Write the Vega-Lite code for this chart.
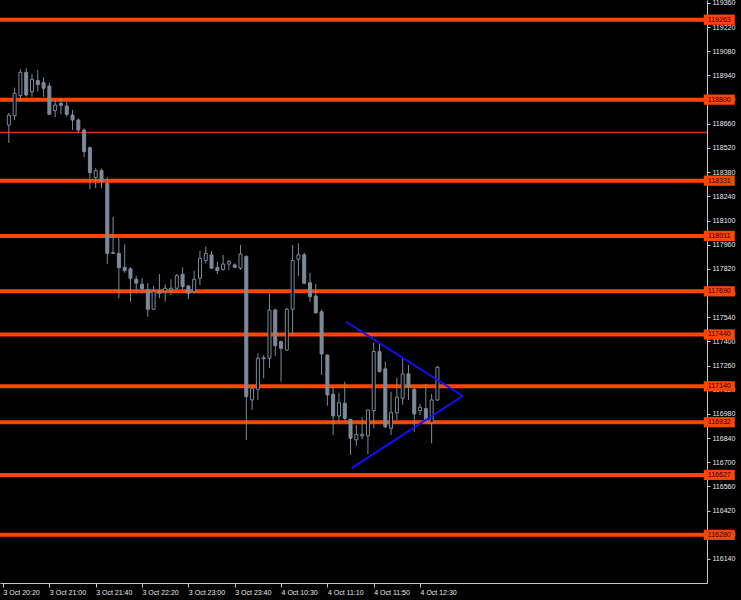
{
  "$schema": "https://vega.github.io/schema/vega-lite/v6.json",
  "width": 707,
  "height": 583,
  "autosize": {"type": "none"},
  "padding": {"left": 0, "top": 0, "right": 34, "bottom": 17},
  "background": "#000000",
  "config": {
    "view": {"stroke": null},
    "axis": {
      "grid": false,
      "domainColor": "#c8c8c8",
      "tickColor": "#c8c8c8",
      "labelColor": "#e8e8e8",
      "labelFont": "Liberation Sans",
      "labelFontSize": 7,
      "domainWidth": 1,
      "tickWidth": 1,
      "title": null,
      "zindex": 1,
      "labelOverlap": false,
      "labelFlush": false,
      "labelBound": false
    },
    "axisQuantitative": {"labelOverlap": false, "tickCount": 30},
    "axisY": {"labelOverlap": false},
    "axisRight": {"labelOverlap": false}
  },
  "datasets": {
    "candles": [
      {"i":1,"o":118653,"h":118723,"l":118549,"c":118711},
      {"i":2,"o":118707,"h":118869,"l":118682,"c":118837},
      {"i":3,"o":118823,"h":118976,"l":118788,"c":118958},
      {"i":4,"o":118958,"h":118982,"l":118817,"c":118827},
      {"i":5,"o":118846,"h":118949,"l":118817,"c":118918},
      {"i":6,"o":118910,"h":118972,"l":118846,"c":118887},
      {"i":7,"o":118898,"h":118929,"l":118817,"c":118866},
      {"i":8,"o":118879,"h":118898,"l":118711,"c":118715},
      {"i":9,"o":118736,"h":118798,"l":118698,"c":118769},
      {"i":10,"o":118779,"h":118808,"l":118715,"c":118767},
      {"i":11,"o":118763,"h":118788,"l":118701,"c":118715},
      {"i":12,"o":118711,"h":118740,"l":118624,"c":118682},
      {"i":13,"o":118682,"h":118692,"l":118609,"c":118624},
      {"i":14,"o":118624,"h":118634,"l":118466,"c":118499},
      {"i":15,"o":118522,"h":118528,"l":118281,"c":118377},
      {"i":16,"o":118348,"h":118402,"l":118287,"c":118389},
      {"i":17,"o":118389,"h":118402,"l":118287,"c":118325},
      {"i":18,"o":118316,"h":118350,"l":117848,"c":117910},
      {"i":19,"o":117914,"h":118122,"l":117906,"c":117910},
      {"i":20,"o":117910,"h":118003,"l":117650,"c":117827},
      {"i":21,"o":117829,"h":117962,"l":117798,"c":117810},
      {"i":22,"o":117820,"h":117830,"l":117630,"c":117766},
      {"i":23,"o":117760,"h":117781,"l":117679,"c":117737},
      {"i":24,"o":117731,"h":117766,"l":117679,"c":117705},
      {"i":25,"o":117698,"h":117737,"l":117543,"c":117586},
      {"i":26,"o":117586,"h":117721,"l":117582,"c":117688},
      {"i":27,"o":117692,"h":117790,"l":117650,"c":117679},
      {"i":28,"o":117692,"h":117731,"l":117630,"c":117708},
      {"i":29,"o":117698,"h":117760,"l":117669,"c":117708},
      {"i":30,"o":117708,"h":117790,"l":117702,"c":117781},
      {"i":31,"o":117789,"h":117829,"l":117702,"c":117717},
      {"i":32,"o":117721,"h":117725,"l":117644,"c":117679},
      {"i":33,"o":117688,"h":117810,"l":117679,"c":117760},
      {"i":34,"o":117766,"h":117924,"l":117727,"c":117881},
      {"i":35,"o":117868,"h":117949,"l":117852,"c":117910},
      {"i":36,"o":117901,"h":117924,"l":117820,"c":117824},
      {"i":37,"o":117829,"h":117862,"l":117790,"c":117810},
      {"i":38,"o":117817,"h":117901,"l":117810,"c":117848},
      {"i":39,"o":117848,"h":117872,"l":117814,"c":117862},
      {"i":40,"o":117843,"h":117852,"l":117824,"c":117829},
      {"i":41,"o":117824,"h":117958,"l":117814,"c":117906},
      {"i":42,"o":117891,"h":117900,"l":116829,"c":117080},
      {"i":43,"o":117061,"h":117148,"l":117003,"c":117129},
      {"i":44,"o":117123,"h":117331,"l":117061,"c":117302},
      {"i":45,"o":117305,"h":117321,"l":117187,"c":117300},
      {"i":46,"o":117302,"h":117679,"l":117245,"c":117582},
      {"i":47,"o":117582,"h":117590,"l":117316,"c":117375},
      {"i":48,"o":117399,"h":117405,"l":117167,"c":117360},
      {"i":49,"o":117350,"h":117595,"l":117345,"c":117586},
      {"i":50,"o":117586,"h":117958,"l":117447,"c":117868},
      {"i":51,"o":117876,"h":117968,"l":117779,"c":117901},
      {"i":52,"o":117901,"h":117914,"l":117730,"c":117737},
      {"i":53,"o":117740,"h":117798,"l":117630,"c":117659},
      {"i":54,"o":117663,"h":117733,"l":117560,"c":117566},
      {"i":55,"o":117572,"h":117586,"l":117206,"c":117327},
      {"i":56,"o":117321,"h":117325,"l":117028,"c":117090},
      {"i":57,"o":117094,"h":117138,"l":116858,"c":116968},
      {"i":58,"o":116968,"h":117100,"l":116930,"c":117045},
      {"i":59,"o":117042,"h":117167,"l":116945,"c":116955},
      {"i":60,"o":116949,"h":116950,"l":116743,"c":116839},
      {"i":61,"o":116830,"h":116916,"l":116795,"c":116862},
      {"i":62,"o":116853,"h":116961,"l":116833,"c":116862},
      {"i":63,"o":116853,"h":117003,"l":116748,"c":117003},
      {"i":64,"o":116999,"h":117393,"l":116897,"c":117341},
      {"i":65,"o":117341,"h":117389,"l":117220,"c":117225},
      {"i":66,"o":117241,"h":117283,"l":116897,"c":116906},
      {"i":67,"o":116897,"h":117109,"l":116858,"c":116987},
      {"i":68,"o":116987,"h":117190,"l":116945,"c":117077},
      {"i":69,"o":117071,"h":117302,"l":117032,"c":117212},
      {"i":70,"o":117212,"h":117264,"l":117061,"c":117138},
      {"i":71,"o":117123,"h":117130,"l":116877,"c":116980},
      {"i":72,"o":116999,"h":117038,"l":116974,"c":117019},
      {"i":73,"o":117011,"h":117154,"l":116939,"c":116939},
      {"i":74,"o":116930,"h":117096,"l":116810,"c":117061},
      {"i":75,"o":117061,"h":117258,"l":117055,"c":117251}
    ],
    "levels": [
      {"p":119263,"kind":"level"},
      {"p":118800,"kind":"level"},
      {"p":118610,"kind":"mid"},
      {"p":118331,"kind":"level"},
      {"p":118011,"kind":"level"},
      {"p":117690,"kind":"level"},
      {"p":117440,"kind":"level"},
      {"p":117140,"kind":"level"},
      {"p":116932,"kind":"level"},
      {"p":116627,"kind":"level"},
      {"p":116280,"kind":"level"}
    ],
    "tri": [
      {"seg":"a","i":59.23,"p":117514},
      {"seg":"a","i":79.37,"p":117084},
      {"seg":"b","i":79.37,"p":117084},
      {"seg":"b","i":60.2,"p":116666}
    ]
  },
  "layer": [
    {
      "data": {"name": "levels"},
      "mark": {"type": "rule"},
      "encoding": {
        "y": {
          "field": "p", "type": "quantitative",
          "scale": {"domain": [116001, 119377], "nice": false, "zero": false},
          "axis": {
            "orient": "right",
            "values": [116140,116280,116420,116560,116700,116840,116980,117120,117260,117400,117540,117680,117820,117960,118100,118240,118380,118520,118660,118800,118940,119080,119220,119360],
            "tickSize": 3, "labelPadding": 2, "labelAlign": "left", "labelBaseline": "middle",
            "labelOverlap": false, "labelFlush": false, "labelBound": false, "format": "d"
          }
        },
        "color": {"condition": {"test": "datum.kind == 'mid'", "value": "#c83a0c"}, "value": "#ff4500"},
        "strokeWidth": {"condition": {"test": "datum.kind == 'mid'", "value": 1.5}, "value": 4}
      }
    },
    {
      "data": {"name": "candles"},
      "mark": {"type": "rule", "color": "#7c8a9a", "strokeWidth": 1},
      "encoding": {
        "x": {
          "field": "i", "type": "quantitative",
          "scale": {"domain": [0.34, 120.68], "nice": false, "zero": false},
          "axis": {
            "values": [0,8,16,24,32,40,48,56,64,72],
            "labelExpr": "['3 Oct 20:20','3 Oct 21:00','3 Oct 21:40','3 Oct 22:20','3 Oct 23:00','3 Oct 23:40','4 Oct 10:30','4 Oct 11:10','4 Oct 11:50','4 Oct 12:30'][round(datum.value/8)]",
            "tickSize": 4, "labelPadding": 1, "labelAlign": "left", "labelBaseline": "top",
            "labelOverlap": false, "labelFlush": false
          }
        },
        "y": {"field": "l", "type": "quantitative"},
        "y2": {"field": "h"}
      }
    },
    {
      "data": {"name": "candles"},
      "mark": {"type": "bar", "size": 3, "stroke": "#7c8a9a", "strokeWidth": 1},
      "encoding": {
        "x": {"field": "i", "type": "quantitative"},
        "y": {"field": "o", "type": "quantitative"},
        "y2": {"field": "c"},
        "fill": {"condition": {"test": "datum.c >= datum.o", "value": "#000000"}, "value": "#7c8a9a"}
      }
    },
    {
      "data": {"name": "tri"},
      "mark": {"type": "line", "color": "#1010ff", "strokeWidth": 2},
      "encoding": {
        "x": {"field": "i", "type": "quantitative"},
        "y": {"field": "p", "type": "quantitative"},
        "detail": {"field": "seg"}
      }
    },
    {
      "data": {"name": "levels"},
      "transform": [{"filter": "datum.kind == 'level'"}],
      "mark": {"type": "point", "shape": "M-1,-0.33H1V0.33H-1Z", "size": 961, "filled": true, "color": "#ff4500", "opacity": 1},
      "encoding": {
        "x": {"datum": 123.66, "type": "quantitative"},
        "y": {"field": "p", "type": "quantitative"}
      }
    },
    {
      "data": {"name": "levels"},
      "transform": [{"filter": "datum.kind == 'level'"}],
      "mark": {"type": "text", "font": "Liberation Sans", "fontSize": 7, "color": "#1a0000", "align": "center", "baseline": "middle"},
      "encoding": {
        "x": {"datum": 123.66, "type": "quantitative"},
        "y": {"field": "p", "type": "quantitative"},
        "text": {"field": "p", "type": "quantitative", "format": "d"}
      }
    }
  ]
}
